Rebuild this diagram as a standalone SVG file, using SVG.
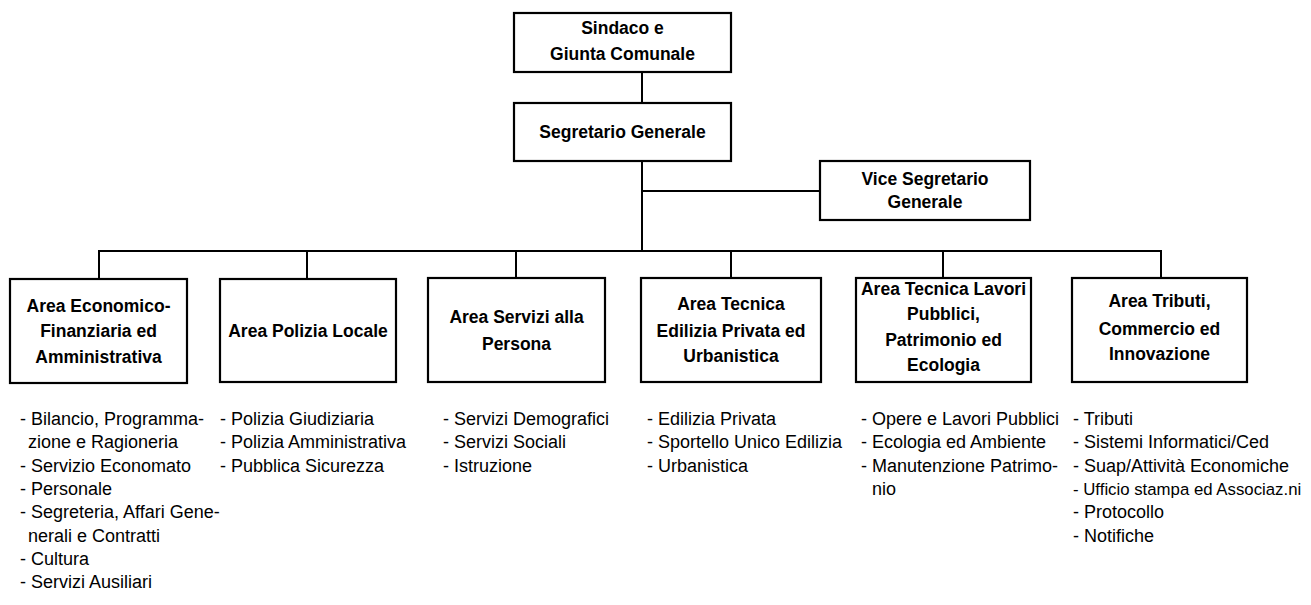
<svg xmlns="http://www.w3.org/2000/svg" width="1311" height="605" viewBox="0 0 1311 605">
<style>
.box{fill:#fff;stroke:#000;stroke-width:2.2}
.conn{fill:none;stroke:#000;stroke-width:2}
.t{font-family:"Liberation Sans",Arial,sans-serif;font-weight:bold;font-size:17.5px;text-anchor:middle;fill:#000}
.l{font-family:"Liberation Sans",Arial,sans-serif;font-size:18px;fill:#000}
.s{font-size:16.8px}
</style>
<rect width="1311" height="605" fill="#fff"/>
<g id="connectors">
<path class="conn" d="M642 72V103M642 161V251M642 191H820M99 279V251H1161V279M307 251V279M516 251V279M731 251V279M943 251V279"/>
</g>
<g id="sindaco">
<rect class="box" x="514" y="13" width="217" height="59"/>
<text class="t" x="622.5" y="34">Sindaco e</text>
<text class="t" x="622.5" y="60">Giunta Comunale</text>
</g>
<g id="segretario">
<rect class="box" x="514" y="103" width="217" height="58"/>
<text class="t" x="622.5" y="138">Segretario Generale</text>
</g>
<g id="vice">
<rect class="box" x="820" y="161" width="210" height="59"/>
<text class="t" x="925" y="185">Vice Segretario</text>
<text class="t" x="925" y="208">Generale</text>
</g>
<g id="area1">
<rect class="box" x="10" y="279" width="177" height="104"/>
<text class="t" x="98.5" y="312">Area Economico-</text>
<text class="t" x="98.5" y="337">Finanziaria ed</text>
<text class="t" x="98.5" y="363">Amministrativa</text>
<text class="l" y="425"><tspan x="20">- Bilancio, Programma-</tspan><tspan x="28" dy="23.3">zione e Ragioneria</tspan><tspan x="20" dy="23.3">- Servizio Economato</tspan><tspan x="20" dy="23.3">- Personale</tspan><tspan x="20" dy="23.3">- Segreteria, Affari Gene-</tspan><tspan x="28" dy="23.3">nerali e Contratti</tspan><tspan x="20" dy="23.3">- Cultura</tspan><tspan x="20" dy="23.3">- Servizi Ausiliari</tspan></text>
</g>
<g id="area2">
<rect class="box" x="220" y="279" width="176" height="103"/>
<text class="t" x="308" y="337">Area Polizia Locale</text>
<text class="l" y="425"><tspan x="220">- Polizia Giudiziaria</tspan><tspan x="220" dy="23.3">- Polizia Amministrativa</tspan><tspan x="220" dy="23.3">- Pubblica Sicurezza</tspan></text>
</g>
<g id="area3">
<rect class="box" x="428" y="278" width="177" height="104"/>
<text class="t" x="516.5" y="323">Area Servizi alla</text>
<text class="t" x="516.5" y="350">Persona</text>
<text class="l" y="425"><tspan x="443">- Servizi Demografici</tspan><tspan x="443" dy="23.3">- Servizi Sociali</tspan><tspan x="443" dy="23.3">- Istruzione</tspan></text>
</g>
<g id="area4">
<rect class="box" x="641" y="278" width="180" height="104"/>
<text class="t" x="731" y="310">Area Tecnica</text>
<text class="t" x="731" y="337">Edilizia Privata ed</text>
<text class="t" x="731" y="362">Urbanistica</text>
<text class="l" y="425"><tspan x="647">- Edilizia Privata</tspan><tspan x="647" dy="23.3">- Sportello Unico Edilizia</tspan><tspan x="647" dy="23.3">- Urbanistica</tspan></text>
</g>
<g id="area5">
<rect class="box" x="856" y="278" width="175" height="104"/>
<text class="t" x="943.5" y="295">Area Tecnica Lavori</text>
<text class="t" x="943.5" y="320">Pubblici,</text>
<text class="t" x="943.5" y="346">Patrimonio ed</text>
<text class="t" x="943.5" y="371">Ecologia</text>
<text class="l" y="425"><tspan x="861">- Opere e Lavori Pubblici</tspan><tspan x="861" dy="23.3">- Ecologia ed Ambiente</tspan><tspan x="861" dy="23.3">- Manutenzione Patrimo-</tspan><tspan x="872" dy="23.3">nio</tspan></text>
</g>
<g id="area6">
<rect class="box" x="1072" y="278" width="175" height="104"/>
<text class="t" x="1159.5" y="307">Area Tributi,</text>
<text class="t" x="1159.5" y="335">Commercio ed</text>
<text class="t" x="1159.5" y="360">Innovazione</text>
<text class="l" y="425"><tspan x="1073">- Tributi</tspan><tspan x="1073" dy="23.3">- Sistemi Informatici/Ced</tspan><tspan x="1073" dy="23.3">- Suap/Attività Economiche</tspan><tspan x="1073" dy="23.3" class="s">- Ufficio stampa ed Associaz.ni</tspan><tspan x="1073" dy="23.3">- Protocollo</tspan><tspan x="1073" dy="23.3">- Notifiche</tspan></text>
</g>
</svg>
